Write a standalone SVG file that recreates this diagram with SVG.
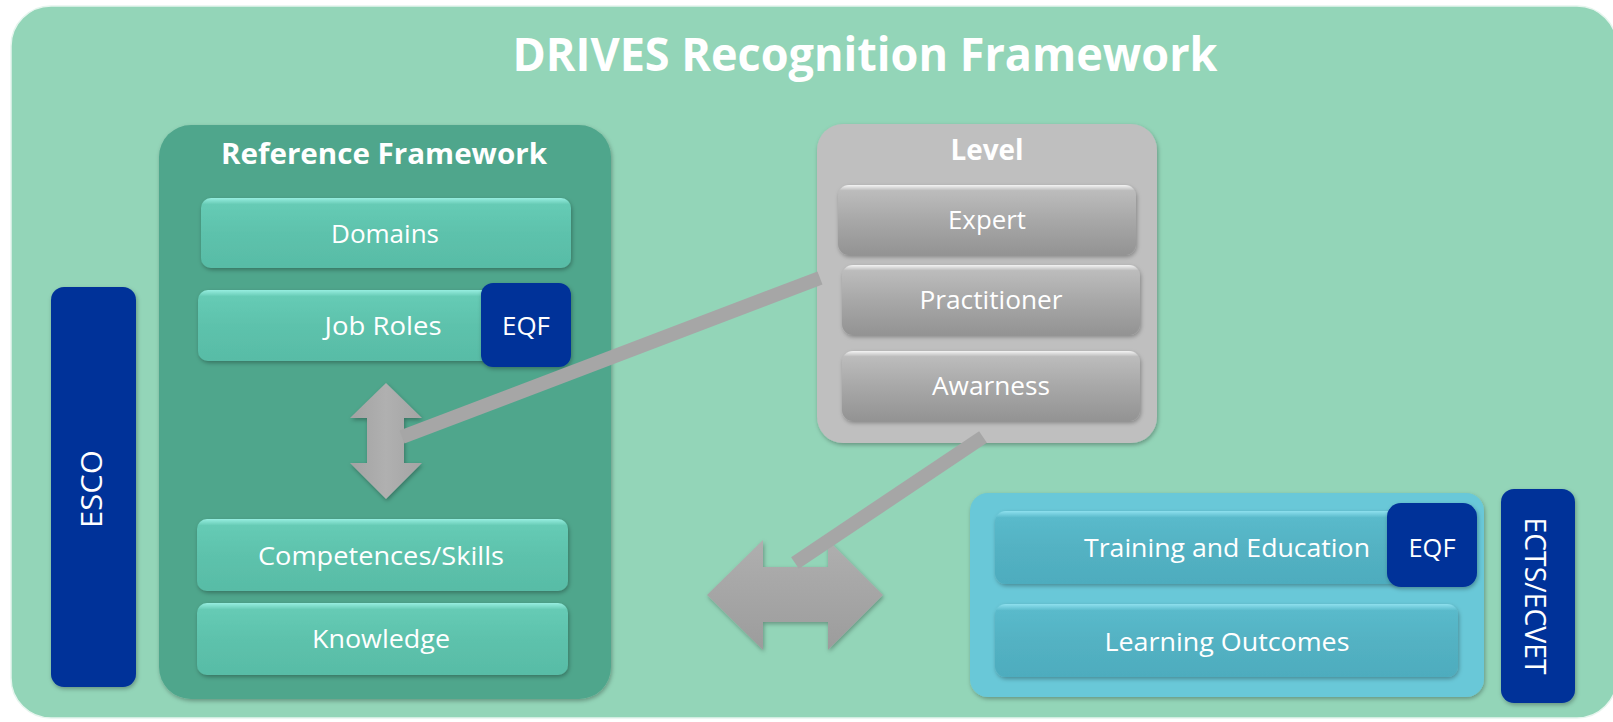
<svg xmlns="http://www.w3.org/2000/svg" width="1613" height="722" viewBox="0 0 1613 722">
<defs>
<filter id="sh" x="-10%" y="-10%" width="120%" height="130%">
<feDropShadow dx="1" dy="2" stdDeviation="2" flood-color="#000" flood-opacity="0.3"/>
</filter>
<linearGradient id="gTeal" x1="0" y1="0" x2="0" y2="1">
<stop offset="0" stop-color="#97EEE0"/>
<stop offset="0.09" stop-color="#66CBB5"/>
<stop offset="0.5" stop-color="#5DC2AC"/>
<stop offset="1" stop-color="#58BCA6"/>
</linearGradient>
<linearGradient id="gBlue" x1="0" y1="0" x2="0" y2="1">
<stop offset="0" stop-color="#8EE0EE"/>
<stop offset="0.09" stop-color="#5ABACB"/>
<stop offset="0.5" stop-color="#53B2C3"/>
<stop offset="1" stop-color="#4EACBE"/>
</linearGradient>
<linearGradient id="gGray" x1="0" y1="0" x2="0" y2="1">
<stop offset="0" stop-color="#F4F4F4"/>
<stop offset="0.08" stop-color="#BCBCBC"/>
<stop offset="0.5" stop-color="#A8A8A8"/>
<stop offset="1" stop-color="#939393"/>
</linearGradient>
<linearGradient id="gArrow" x1="0" y1="0" x2="0" y2="1">
<stop offset="0" stop-color="#AFAFAF"/>
<stop offset="1" stop-color="#9C9C9C"/>
</linearGradient>
<linearGradient id="gArrowV" x1="0" y1="0" x2="1" y2="0">
<stop offset="0" stop-color="#A2A2A2"/>
<stop offset="0.5" stop-color="#B0B0B0"/>
<stop offset="1" stop-color="#A4A4A4"/>
</linearGradient>
<style>
.t{font-family:"Open Sans","DejaVu Sans",sans-serif;fill:#FFFFFF;text-anchor:middle;}
.b{font-weight:bold;}
.bar{filter:url(#sh);}
.navy{fill:#003399;}
.conn{stroke:#A6A6A6;stroke-width:14;stroke-linecap:butt;fill:none;}
</style>
</defs>

<g id="background">
<rect x="11" y="6" width="1606" height="712" rx="40" fill="#93D5B8" stroke="#E6F5EE" stroke-width="1.5"/>
<text class="t b" x="865" y="71" font-size="46" textLength="705" lengthAdjust="spacingAndGlyphs">DRIVES Recognition Framework</text>
</g>

<g id="esco">
<rect class="navy bar" x="51" y="287" width="85" height="400" rx="13"/>
<text class="t" transform="translate(102,489) rotate(-90)" font-size="29" textLength="78" lengthAdjust="spacingAndGlyphs">ESCO</text>
</g>

<g id="reference-framework">
<rect class="bar" x="159" y="125" width="452" height="574" rx="32" fill="#50A68C"/>
<text class="t b" x="384" y="164" font-size="28" textLength="326" lengthAdjust="spacingAndGlyphs">Reference Framework</text>
</g>

<g id="domains">
<rect class="bar" x="201" y="198" width="370" height="70" rx="10" fill="url(#gTeal)"/>
<text class="t" x="385" y="243" font-size="26" textLength="108" lengthAdjust="spacingAndGlyphs">Domains</text>
</g>

<g id="job-roles">
<rect class="bar" x="198" y="290" width="300" height="71" rx="10" fill="url(#gTeal)"/>
<text class="t" x="383" y="335" font-size="26" textLength="117" lengthAdjust="spacingAndGlyphs">Job Roles</text>
</g>

<g id="eqf-ref">
<rect class="navy bar" x="481" y="283" width="90" height="84" rx="12"/>
<text class="t" x="526" y="335" font-size="26" textLength="48" lengthAdjust="spacingAndGlyphs">EQF</text>
</g>

<g id="competences">
<rect class="bar" x="197" y="519" width="371" height="72" rx="10" fill="url(#gTeal)"/>
<text class="t" x="381" y="565" font-size="26" textLength="246" lengthAdjust="spacingAndGlyphs">Competences/Skills</text>
</g>

<g id="knowledge">
<rect class="bar" x="197" y="603" width="371" height="72" rx="10" fill="url(#gTeal)"/>
<text class="t" x="381" y="648" font-size="26" textLength="138" lengthAdjust="spacingAndGlyphs">Knowledge</text>
</g>

<g id="level">
<rect class="bar" x="817" y="124" width="340" height="319" rx="26" fill="#BFBFBF"/>
<text class="t b" x="987" y="160" font-size="28" textLength="73" lengthAdjust="spacingAndGlyphs">Level</text>
</g>

<g id="expert">
<rect class="bar" x="838" y="185" width="298" height="70" rx="11" fill="url(#gGray)"/>
<text class="t" x="987" y="229" font-size="26" textLength="78" lengthAdjust="spacingAndGlyphs">Expert</text>
</g>

<g id="practitioner">
<rect class="bar" x="842" y="265" width="298" height="70" rx="11" fill="url(#gGray)"/>
<text class="t" x="991" y="309" font-size="26" textLength="143" lengthAdjust="spacingAndGlyphs">Practitioner</text>
</g>

<g id="awarness">
<rect class="bar" x="842" y="351" width="298" height="70" rx="11" fill="url(#gGray)"/>
<text class="t" x="991" y="395" font-size="26" textLength="118" lengthAdjust="spacingAndGlyphs">Awarness</text>
</g>

<g id="training-panel">
<rect class="bar" x="970" y="493" width="514" height="204" rx="18" fill="#69C8D8"/>
</g>

<g id="training">
<rect class="bar" x="995" y="511" width="410" height="73" rx="11" fill="url(#gBlue)"/>
<text class="t" x="1227" y="557" font-size="26" textLength="286" lengthAdjust="spacingAndGlyphs">Training and Education</text>
</g>

<g id="eqf-training">
<rect class="navy bar" x="1387" y="503" width="90" height="84" rx="14"/>
<text class="t" x="1432" y="557" font-size="26" textLength="47" lengthAdjust="spacingAndGlyphs">EQF</text>
</g>

<g id="learning-outcomes">
<rect class="bar" x="995" y="604" width="463" height="73" rx="11" fill="url(#gBlue)"/>
<text class="t" x="1227" y="651" font-size="26" textLength="245" lengthAdjust="spacingAndGlyphs">Learning Outcomes</text>
</g>

<g id="ects-ecvet">
<rect class="navy bar" x="1501" y="489" width="74" height="214" rx="13"/>
<text class="t" transform="translate(1525,596) rotate(90)" font-size="29" textLength="157" lengthAdjust="spacingAndGlyphs">ECTS/ECVET</text>
</g>

<g id="connectors">
<path class="bar" d="M386,383 L422,418 L404,418 L404,463 L422,463 L386,499 L350,463 L367,463 L367,418 L350,418 Z" fill="url(#gArrowV)"/>
<path class="bar" d="M707,595 L763,540 L763,567 L828,567 L828,540 L883,595 L828,650 L828,622 L763,622 L763,650 Z" fill="url(#gArrow)"/>
<line class="conn" x1="820" y1="278" x2="402" y2="437"/>
<line class="conn" x1="983" y1="437" x2="795" y2="563"/>
</g>
</svg>
